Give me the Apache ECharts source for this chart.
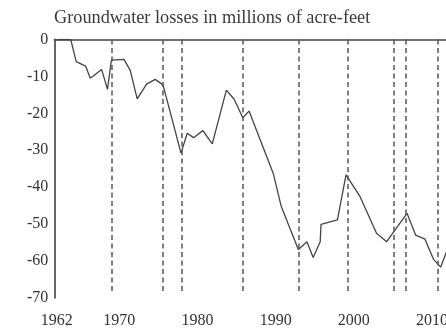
<!DOCTYPE html>
<html>
<head>
<meta charset="utf-8">
<script src="https://cdn.jsdelivr.net/npm/echarts@6/dist/echarts.min.js"></script>
<style>
  html, body { margin: 0; padding: 0; background: #fff; overflow: hidden; }
  #chart { width: 480px; height: 333px; }
</style>
</head>
<body>
<div id="chart"></div>
<script>
// Cumulative groundwater change, millions of acre-feet
const years = [1962.0, 1963.8, 1964.5, 1965.7, 1966.3, 1967.75, 1968.5, 1969.0, 1970.6, 1971.4,
  1972.3, 1973.5, 1974.6, 1975.6, 1977.9, 1978.7, 1979.5, 1980.7, 1981.9, 1983.7,
  1984.7, 1985.8, 1986.6, 1989.7, 1990.7, 1992.9, 1994.0, 1994.8, 1995.7, 1995.8,
  1997.9, 1999.0, 2000.8, 2002.9, 2004.2, 2006.8, 2007.9, 2009.1, 2010.2, 2011.1, 2012.3];
const losses = [0, 0, -6.0, -7.2, -10.5, -8.1, -13.5, -5.6, -5.4, -8.3,
  -16.1, -12.1, -10.8, -12.3, -30.8, -25.4, -26.6, -24.7, -28.3, -13.7,
  -16.2, -21.2, -19.4, -36.3, -45.1, -56.9, -54.8, -59.1, -54.8, -50.1,
  -48.9, -36.7, -42.6, -52.5, -54.8, -47.1, -53.0, -54.1, -59.6, -61.7, -55.0];

// Period boundaries drawn as dashed verticals
const periodMarks = [1969.03, 1975.63, 1978.06, 1985.86, 1992.98, 1999.16, 2005.1, 2006.66, 2010.75];

const xTickLabels = [1962, 1970, 1980, 1990, 2000, 2010];
const yTicks = [0, -10, -20, -30, -40, -50, -60, -70];

const titleText = 'Groundwater losses in millions of acre-feet';

const points = years.map((y, i) => [y, losses[i]]);
const FONT = 'Liberation Serif';

const chart = echarts.init(document.getElementById('chart'), null, { renderer: 'canvas' });
chart.setOption({
  animation: false,
  backgroundColor: '#fff',
  title: {
    text: titleText,
    left: 54,
    top: 9,
    padding: 0,
    textStyle: { fontFamily: FONT, fontSize: 18.3, fontWeight: 'normal', color: '#3a3a3a' }
  },
  grid: { left: 54.3, top: 39.5, width: 414.5, height: 258.3, containLabel: false },
  xAxis: {
    type: 'value',
    min: 1961.7,
    max: 2014.7,
    splitLine: { show: false },
    axisTick: { show: false },
    axisLine: { show: true, lineStyle: { color: '#444', width: 1.5 } },
    axisLabel: {
      customValues: xTickLabels,
      formatter: v => String(Math.round(v)),
      fontFamily: FONT, fontSize: 16, color: '#333', margin: 15
    }
  },
  yAxis: {
    type: 'value',
    min: -70,
    max: 0,
    interval: 10,
    splitLine: { show: false },
    axisTick: { show: false },
    axisLine: { show: true, lineStyle: { color: '#555', width: 1.8 } },
    axisLabel: {
      customValues: yTicks,
      formatter: v => String(v),
      fontFamily: FONT, fontSize: 16, color: '#333', margin: 6
    }
  },
  series: [{
    type: 'line',
    data: points,
    showSymbol: false,
    lineStyle: { color: '#444', width: 1.3 },
    markLine: {
      silent: true,
      symbol: ['none', 'none'],
      label: { show: false },
      lineStyle: { color: '#555', width: 1.5, type: [5, 3.5] },
      data: periodMarks.map(x => [{ coord: [x, 0] }, { coord: [x, -69] }])
    }
  }]
});
</script>
</body>
</html>
